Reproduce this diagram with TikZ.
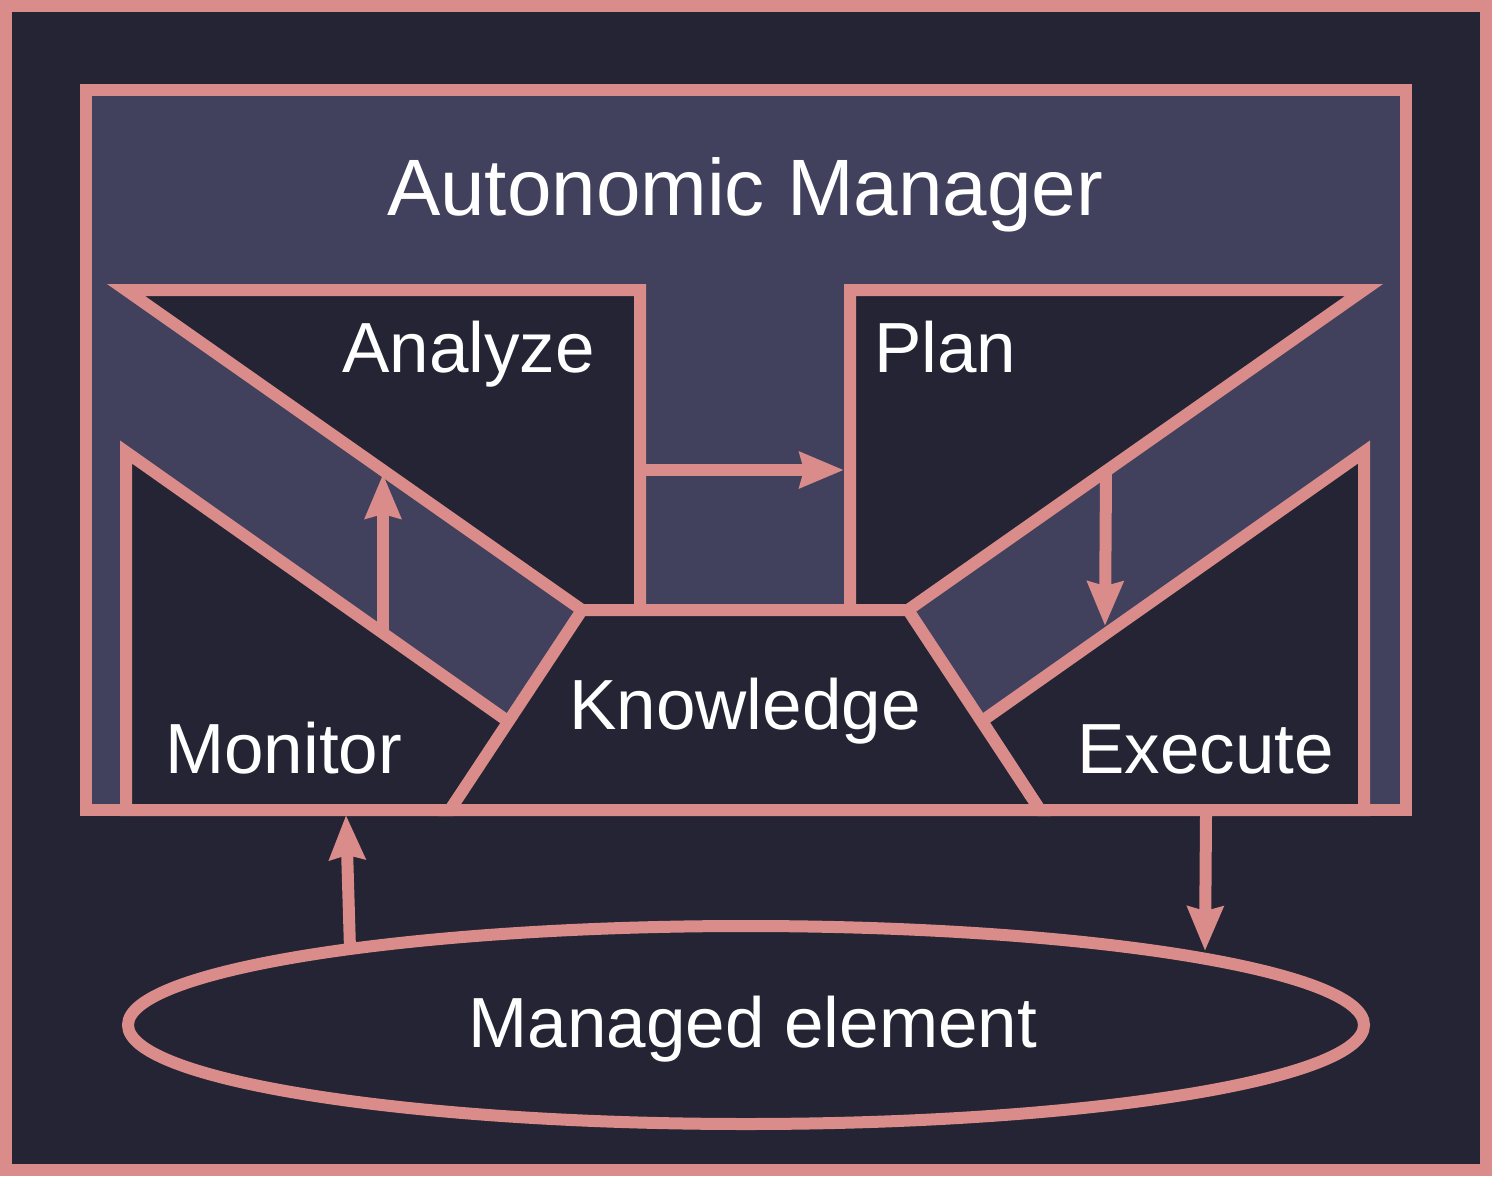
\documentclass[tikz,border=0pt]{standalone}
\usepackage{fontspec}
\setmainfont{Liberation Sans}
\usetikzlibrary{arrows.meta}
\definecolor{pinkline}{HTML}{D98C8A}
\definecolor{darkbg}{HTML}{252434}
\definecolor{midbg}{HTML}{41405D}
\tikzset{
  shapeline/.style={draw=pinkline, line width=12pt, line join=miter},
  darkshape/.style={shapeline, fill=darkbg},
  label/.style={text=white, inner sep=0pt, font=\fontsize{71}{80}\selectfont},
  flow/.style={draw=pinkline, line width=12pt, -{Stealth[length=44pt,width=35pt,inset=4pt]}}
}
\begin{document}
\begin{tikzpicture}[x=1pt,y=-1pt]
\useasboundingbox (0,0) rectangle (1496,1180);
% outer frame
\draw[darkshape] (6,6) rectangle (1486,1170);
% autonomic manager box
\draw[shapeline, fill=midbg] (86,90) rectangle (1406,810);
% analyze
\draw[darkshape] (126,290) -- (640,290) -- (640,610) -- (582,610) -- cycle;
% plan
\draw[darkshape] (850,290) -- (1364,290) -- (908,610) -- (850,610) -- cycle;
% monitor
\draw[darkshape] (126,452) -- (509,722) -- (450,810) -- (126,810) -- cycle;
% execute
\draw[darkshape] (1364,452) -- (982,721) -- (1040,810) -- (1364,810) -- cycle;
% knowledge
\draw[darkshape] (582,610) -- (908,610) -- (1040,810) -- (450,810) -- cycle;
% managed element
\draw[darkshape] (746,1025) ellipse [x radius=618, y radius=99];

% labels
\node[label, anchor=base, font=\fontsize{80}{90}\selectfont] (am) at (745,215) {Autonomic Manager};
\node[label, anchor=base east] (an) at (595,372) {Analyze};
\node[label, anchor=base west] (pl) at (874,372) {Plan};
\node[label, anchor=base west] (mo) at (165,773) {Monitor};
\node[label, anchor=base east] (ex) at (1334,773) {Execute};
\node[label, anchor=base] (kn) at (745,729) {Knowledge};
\node[label, anchor=base] (me) at (753,1047) {Managed element};

% connector end points
\coordinate (monA) at (383,633);
\coordinate (anaA) at (383,474);
\coordinate (anaB) at (640,470);
\coordinate (plaB) at (844,470);
\coordinate (plaC) at (1106,472);
\coordinate (exeC) at (1105,626);
\coordinate (meOut) at (350,949);
\coordinate (amIn) at (346,815);
\coordinate (amOut) at (1206,816);
\coordinate (meIn) at (1205,951);

\draw[flow] (monA) -- (anaA);
\draw[flow] (anaB) -- (plaB);
\draw[flow] (plaC) -- (exeC);
\draw[flow] (meOut) -- (amIn);
\draw[flow] (amOut) -- (meIn);
\end{tikzpicture}
\end{document}
